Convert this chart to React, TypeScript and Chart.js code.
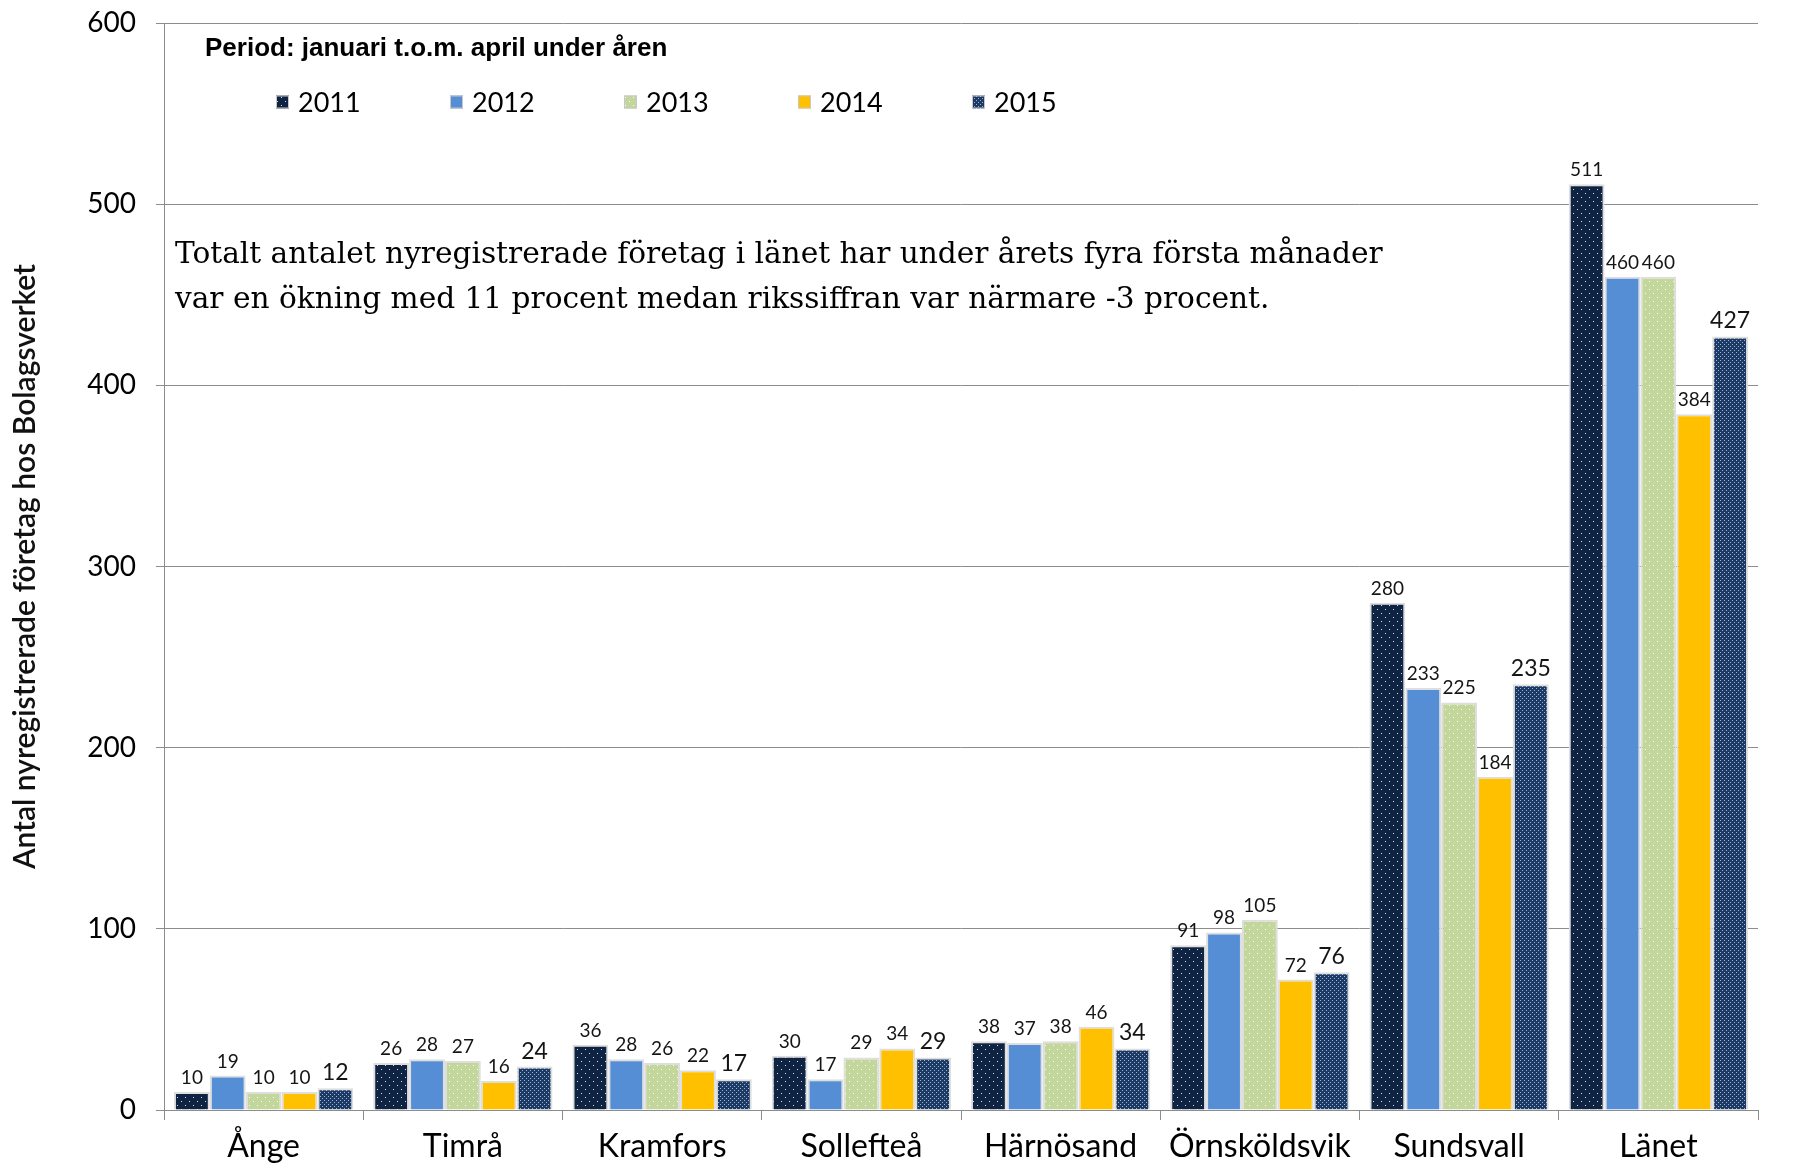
import React, { useEffect, useRef } from 'react';
import { Chart, registerables } from 'chart.js';

Chart.register(...registerables);

const categories = ['Ånge', 'Timrå', 'Kramfors', 'Sollefteå', 'Härnösand', 'Örnsköldsvik', 'Sundsvall', 'Länet'];
const years = ['2011', '2012', '2013', '2014', '2015'];
const values2011 = [10, 26, 36, 30, 38, 91, 280, 511];
const values2012 = [19, 28, 28, 17, 37, 98, 233, 460];
const values2013 = [10, 27, 26, 29, 38, 105, 225, 460];
const values2014 = [10, 16, 22, 34, 46, 72, 184, 384];
const values2015 = [12, 24, 17, 29, 34, 76, 235, 427];
const yMin = 0;
const yMax = 600;
const yStep = 100;
const yTitle = 'Antal nyregistrerade företag hos Bolagsverket';
const periodText = 'Period: januari t.o.m. april under åren';
const noteLines = [
  'Totalt antalet nyregistrerade företag i länet har under årets fyra första månader',
  'var en ökning med 11 procent medan rikssiffran var närmare -3 procent.',
];

const W = 1802;
const H = 1163;

function makePattern(ctx: CanvasRenderingContext2D, bg: string, dot: string, cell: number, dots: number[][]) {
  const c = document.createElement('canvas');
  c.width = cell;
  c.height = cell;
  const p = c.getContext('2d')!;
  p.fillStyle = bg;
  p.fillRect(0, 0, cell, cell);
  p.fillStyle = dot;
  dots.forEach(([x, y]) => p.fillRect(x, y, 1, 1));
  return ctx.createPattern(c, 'repeat') as CanvasPattern;
}

export default function App() {
  const ref = useRef<HTMLCanvasElement | null>(null);

  useEffect(() => {
    const canvas = ref.current!;
    const ctx = canvas.getContext('2d')!;
    const fills: (string | CanvasPattern)[] = [
      makePattern(ctx, '#0f2443', 'rgba(255,255,255,0.85)', 8, [[1, 1], [5, 5]]),
      '#558ed5',
      makePattern(ctx, '#c3d69b', 'rgba(255,255,255,0.95)', 8, [[1, 1], [5, 5]]),
      '#ffc000',
      makePattern(ctx, '#1c3a63', 'rgba(170,195,225,0.9)', 4, [[0, 0], [2, 2]]),
    ];
    const series = [values2011, values2012, values2013, values2014, values2015];

    const overlay = {
      id: 'overlay',
      afterDatasetsDraw(chart: any) {
        const c = chart.ctx as CanvasRenderingContext2D;
        c.save();
        c.textAlign = 'center';
        c.textBaseline = 'alphabetic';
        c.fillStyle = '#151515';
        chart.data.datasets.forEach((ds: any, i: number) => {
          const meta = chart.getDatasetMeta(i);
          c.font = i === 4 ? '23px Lato' : '19px Lato';
          meta.data.forEach((bar: any, j: number) => {
            c.fillText(String(ds.data[j]), bar.x, bar.y - 8);
          });
        });
        c.restore();
      },
      afterDraw(chart: any) {
        const c = chart.ctx as CanvasRenderingContext2D;
        c.save();
        c.fillStyle = '#000';
        c.textAlign = 'left';
        c.textBaseline = 'alphabetic';
        c.font = 'bold 26px "Liberation Sans", Arial, sans-serif';
        c.fillText(periodText, 205, 56);
        c.font = '27px Lato';
        c.textBaseline = 'middle';
        chart.data.datasets.forEach((ds: any, i: number) => {
          const x = 276 + i * 174;
          const y = 102;
          c.fillStyle = ds.backgroundColor;
          c.fillRect(x, y - 6.5, 13, 13);
          c.strokeStyle = '#c8c8c8';
          c.lineWidth = 1;
          c.strokeRect(x + 0.5, y - 6, 12, 12);
          c.fillStyle = '#000';
          c.fillText(ds.label, x + 22, y + 1);
        });
        c.textBaseline = 'alphabetic';
        c.font = '29.6px "DejaVu Serif", serif';
        c.fillStyle = '#000';
        noteLines.forEach((line, k) => c.fillText(line, 175, 263 + k * 45));
        c.restore();
      },
    };

    const chart = new Chart(canvas, {
      type: 'bar',
      data: {
        labels: categories,
        datasets: years.map((y, i) => ({
          label: y,
          data: series[i],
          backgroundColor: fills[i] as any,
          borderColor: '#dedede',
          borderWidth: 2,
          categoryPercentage: 0.9,
          barPercentage: 1.0,
        })),
      },
      options: {
        responsive: false,
        animation: false,
        devicePixelRatio: 1,
        layout: { padding: { top: 23, right: 44, left: 0, bottom: 0 } },
        plugins: {
          legend: { display: false },
          tooltip: { enabled: false },
        },
        scales: {
          x: {
            type: 'category',
            offset: true,
            grid: { offset: true, drawOnChartArea: false, drawTicks: true, tickLength: 10, color: '#8c8c8c', lineWidth: 1 },
            border: { color: '#8c8c8c', width: 1 },
            ticks: { font: { family: 'Lato', size: 32 }, color: '#000', padding: 7, maxRotation: 0, autoSkip: false },
            afterFit: (s: any) => { s.height = 53; },
          },
          y: {
            min: yMin,
            max: yMax,
            ticks: { stepSize: yStep, font: { family: 'Lato', size: 28 }, color: '#000', padding: 20 },
            grid: { color: '#8c8c8c', tickLength: 8, lineWidth: 1 },
            border: { color: '#8c8c8c', width: 1 },
            title: {
              display: true,
              text: yTitle,
              font: { family: 'Lato', size: 30, weight: '600' },
              color: '#111',
              padding: { top: 7, bottom: 0 },
            },
            afterFit: (s: any) => { s.width = 164; s.paddingTop = 0; },
          },
        },
      },
      plugins: [overlay],
    } as any);

    return () => chart.destroy();
  }, []);

  return (
    <div style={{ position: 'absolute', left: 0, top: 0, width: W, height: H, background: '#fff' }}>
      <canvas ref={ref} width={W} height={H} style={{ display: 'block', width: W, height: H }} />
    </div>
  );
}
